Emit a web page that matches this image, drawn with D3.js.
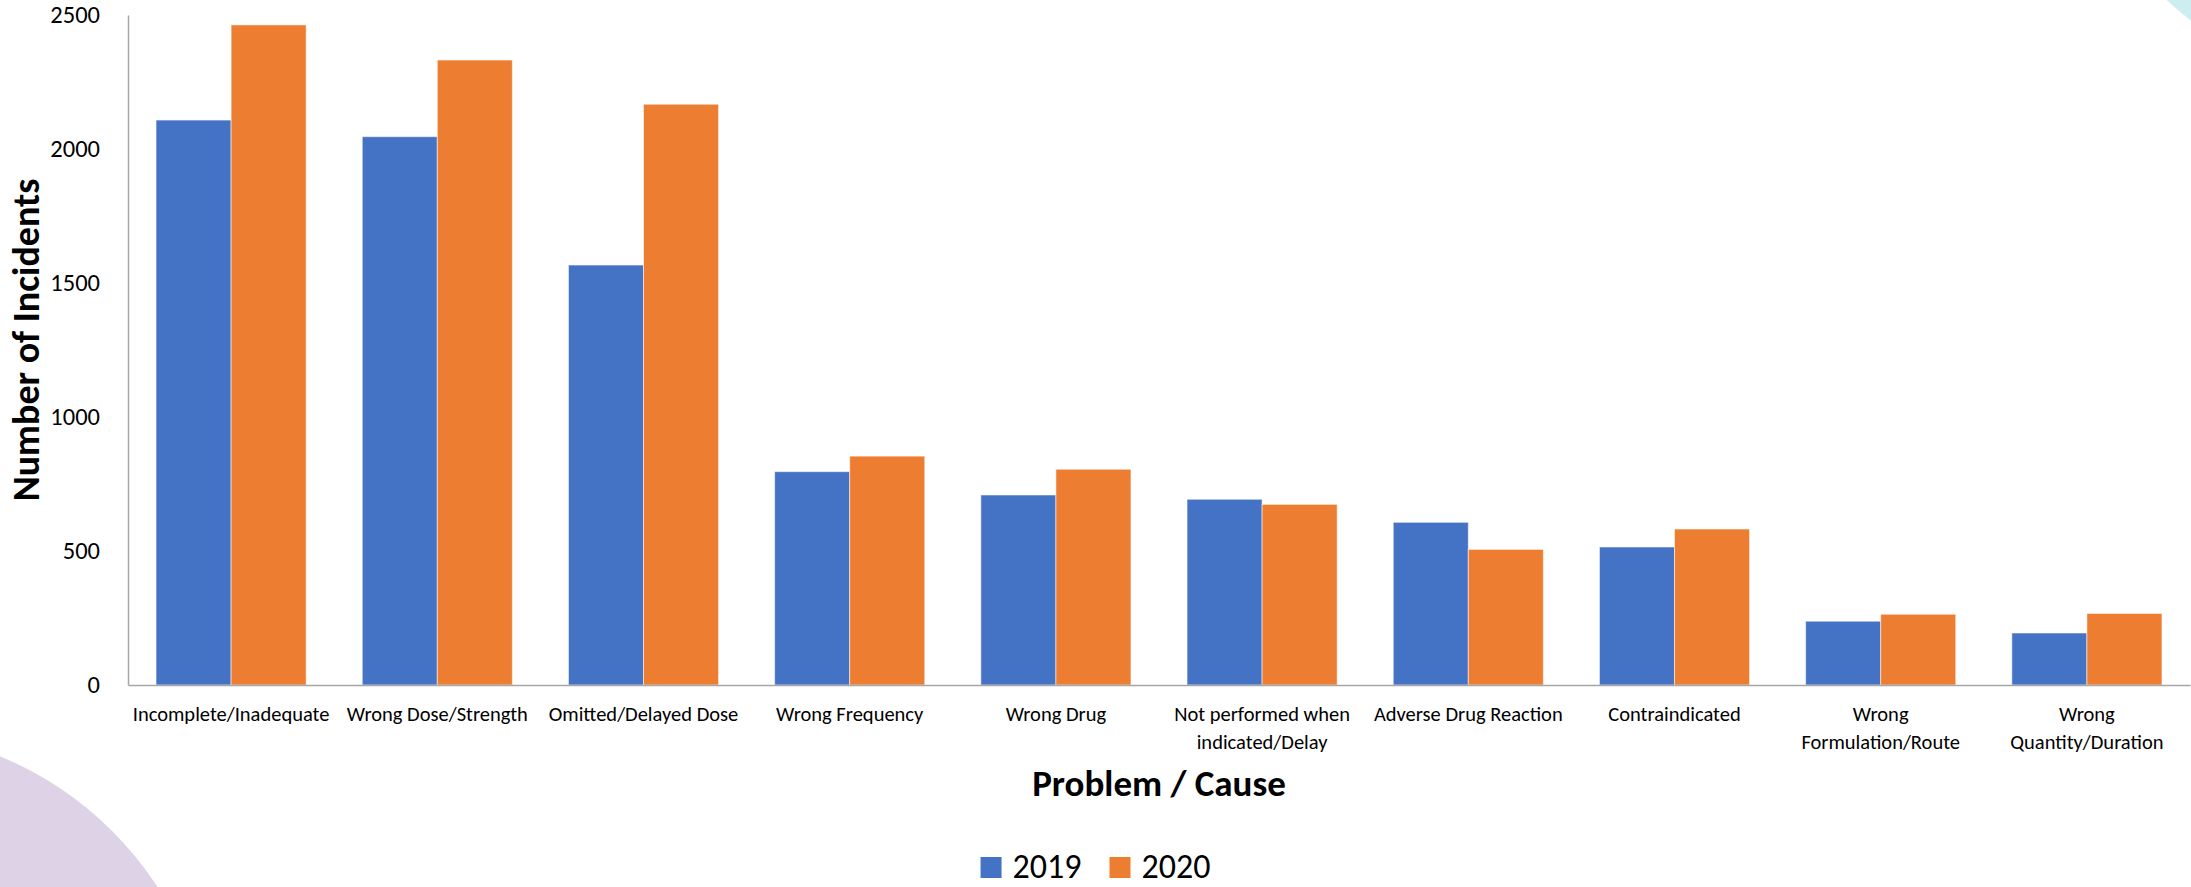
<!DOCTYPE html>
<html>
<head>
<meta charset="utf-8">
<script src="https://cdn.jsdelivr.net/npm/d3@7"></script>
<style>
  html, body { margin: 0; padding: 0; background: #fff; }
  svg { display: block; }
  text { font-family: Carlito, Calibri, Lato, sans-serif; fill: #000; }
</style>
</head>
<body>
<svg id="chart" width="2191" height="887"></svg>
<script>
// Incident counts by problem / cause, 2019 vs 2020
const categories = [
  "Incomplete/Inadequate", "Wrong Dose/Strength", "Omitted/Delayed Dose",
  "Wrong Frequency", "Wrong Drug", "Not performed when indicated/Delay",
  "Adverse Drug Reaction", "Contraindicated", "Wrong Formulation/Route",
  "Wrong Quantity/Duration"
];
const categoryLines = [
  ["Incomplete/Inadequate"], ["Wrong Dose/Strength"], ["Omitted/Delayed Dose"],
  ["Wrong Frequency"], ["Wrong Drug"], ["Not performed when", "indicated/Delay"],
  ["Adverse Drug Reaction"], ["Contraindicated"], ["Wrong", "Formulation/Route"],
  ["Wrong", "Quantity/Duration"]
];
const seriesNames = ["2019", "2020"];
const values2019 = [2108, 2046, 1567, 796, 709, 693, 607, 515, 238, 194];
const values2020 = [2463, 2332, 2167, 854, 805, 674, 506, 582, 264, 267];
const yTicks = [0, 500, 1000, 1500, 2000, 2500];
const seriesColors = ["#4472C4", "#ED7D31"];

const W = 2191, H = 887;
const plot = { left: 128, right: 2190, top: 15, bottom: 685 };

const svg = d3.select("#chart");

// decorative background shapes
svg.append("circle").attr("cx", -129).attr("cy", 1072).attr("r", 341).attr("fill", "#DED2E6");
svg.append("circle").attr("cx", 2400).attr("cy", -250).attr("r", 342).attr("fill", "#CDEDF1");

const x = d3.scaleBand().domain(categories)
  .range([plot.left, plot.right]).paddingInner(0.272).paddingOuter(0.136);
const xSub = d3.scaleBand().domain(seriesNames).range([0, x.bandwidth()]);
const y = d3.scaleLinear().domain([0, 2500]).range([plot.bottom, plot.top]);
const color = d3.scaleOrdinal().domain(seriesNames).range(seriesColors);

const rows = categories.map((c, i) => ({
  category: c,
  values: [
    { series: "2019", value: values2019[i] },
    { series: "2020", value: values2020[i] }
  ]
}));

// bars
const groups = svg.append("g").selectAll("g").data(rows).join("g")
  .attr("transform", d => `translate(${x(d.category)},0)`);
groups.selectAll("rect").data(d => d.values).join("rect")
  .attr("x", d => xSub(d.series))
  .attr("y", d => y(d.value))
  .attr("width", xSub.bandwidth())
  .attr("height", d => y(0) - y(d.value))
  .attr("fill", d => color(d.series))
  .attr("stroke", "#ffffff")
  .attr("stroke-opacity", 0.55)
  .attr("stroke-width", 1);

// y axis
const yAxis = svg.append("g").attr("transform", `translate(${plot.left},0)`)
  .call(d3.axisLeft(y).tickValues(yTicks).tickFormat(d3.format("d"))
    .tickSize(0).tickSizeOuter(0).tickPadding(28));
yAxis.select(".domain").attr("stroke", "#A6A6A6").attr("stroke-width", 1.5);
yAxis.selectAll("text").style("font-size", "24.5px")
  .style("font-family", "Carlito, Calibri, Lato, sans-serif").attr("fill", "#000");

// x axis
const xAxis = svg.append("g").attr("transform", `translate(0,${plot.bottom})`)
  .call(d3.axisBottom(x).tickSize(0).tickSizeOuter(0).tickFormat(""));
xAxis.select(".domain").attr("stroke", "#A6A6A6").attr("stroke-width", 1.5);

const labelG = svg.append("g");
categories.forEach((c, i) => {
  const t = labelG.append("text")
    .attr("x", x(c) + x.bandwidth() / 2)
    .attr("y", plot.bottom + 36)
    .attr("text-anchor", "middle")
    .style("font-size", "20.5px");
  categoryLines[i].forEach((line, j) => {
    t.append("tspan").attr("x", x(c) + x.bandwidth() / 2)
      .attr("dy", j === 0 ? 0 : 28).text(line);
  });
});

// axis titles
svg.append("text")
  .attr("x", (plot.left + plot.right) / 2).attr("y", 796)
  .attr("text-anchor", "middle")
  .style("font-size", "37px").style("font-weight", "bold")
  .text("Problem / Cause");

svg.append("text")
  .attr("transform", `translate(39,340) rotate(-90)`)
  .attr("text-anchor", "middle")
  .style("font-size", "38px").style("font-weight", "bold")
  .text("Number of Incidents");

// legend
const legend = svg.append("g");
const legendItems = legend.selectAll("g").data(seriesNames).join("g");
legendItems.append("rect").attr("width", 21).attr("height", 21)
  .attr("y", 857).attr("fill", d => color(d));
legendItems.append("text").attr("y", 878).attr("x", 32)
  .style("font-size", "34px").text(d => d);
// lay out legend items side by side, centred on the chart
let offset = 0;
const gap = 28;
legendItems.each(function () {
  const g = d3.select(this);
  g.attr("transform", `translate(${offset},0)`);
  offset += this.getBBox().width + gap;
});
const legendWidth = offset - gap;
legend.attr("transform", `translate(${(W - legendWidth) / 2},0)`);
</script>
</body>
</html>
